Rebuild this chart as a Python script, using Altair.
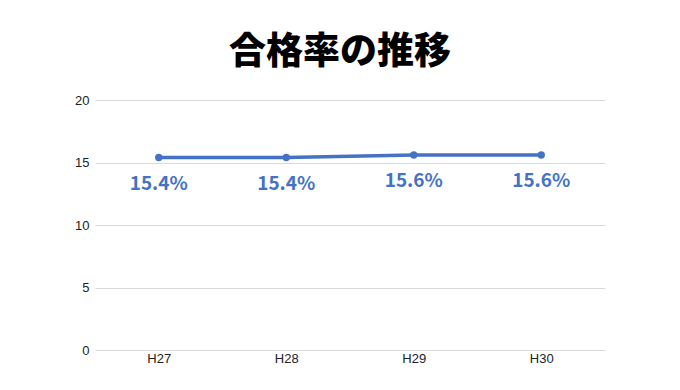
import altair as alt
import pandas as pd

years = ["H27", "H28", "H29", "H30"]
rates = [15.4, 15.4, 15.6, 15.6]
labels = ["15.4%", "15.4%", "15.6%", "15.6%"]

df = pd.DataFrame({"year": years, "rate": rates, "label": labels})

BLUE = "#4472C4"

base = alt.Chart(df).encode(
    x=alt.X("year:N", sort=years, title=None,
            scale=alt.Scale(paddingInner=0, paddingOuter=0.5),
            axis=alt.Axis(labelAngle=0, ticks=False, domain=False, grid=False,
                          labelFont="Liberation Sans", labelFontSize=13,
                          labelColor="#222", labelPadding=2)),
    y=alt.Y("rate:Q", title=None,
            scale=alt.Scale(domain=[0, 20]),
            axis=alt.Axis(values=[0, 5, 10, 15, 20], ticks=False, domain=False,
                          grid=True, gridColor="#d9d9d9", gridWidth=1,
                          labelFont="Liberation Sans", labelFontSize=13,
                          labelColor="#222", labelPadding=6)),
)

line = base.mark_line(color=BLUE, strokeWidth=3.5)
points = base.mark_point(color=BLUE, filled=True, opacity=1, size=55)
text = base.mark_text(color=BLUE, fontSize=19, fontWeight="bold",
                      font="Noto Sans CJK JP", dy=26).encode(text="label:N")

chart = (line + points + text).properties(
    width=510, height=250,
    title=alt.TitleParams("合格率の推移", font="Noto Sans CJK JP", fontSize=37,
                          fontWeight=900, color="#000", anchor="middle",
                          dx=-10, offset=22),
    autosize=alt.AutoSizeParams(type="none"),
    padding={"left": 87, "top": 92, "right": 10, "bottom": 30},
).configure_view(stroke=None)

chart.save("out.html", embed_options={"renderer": "svg", "actions": False})
